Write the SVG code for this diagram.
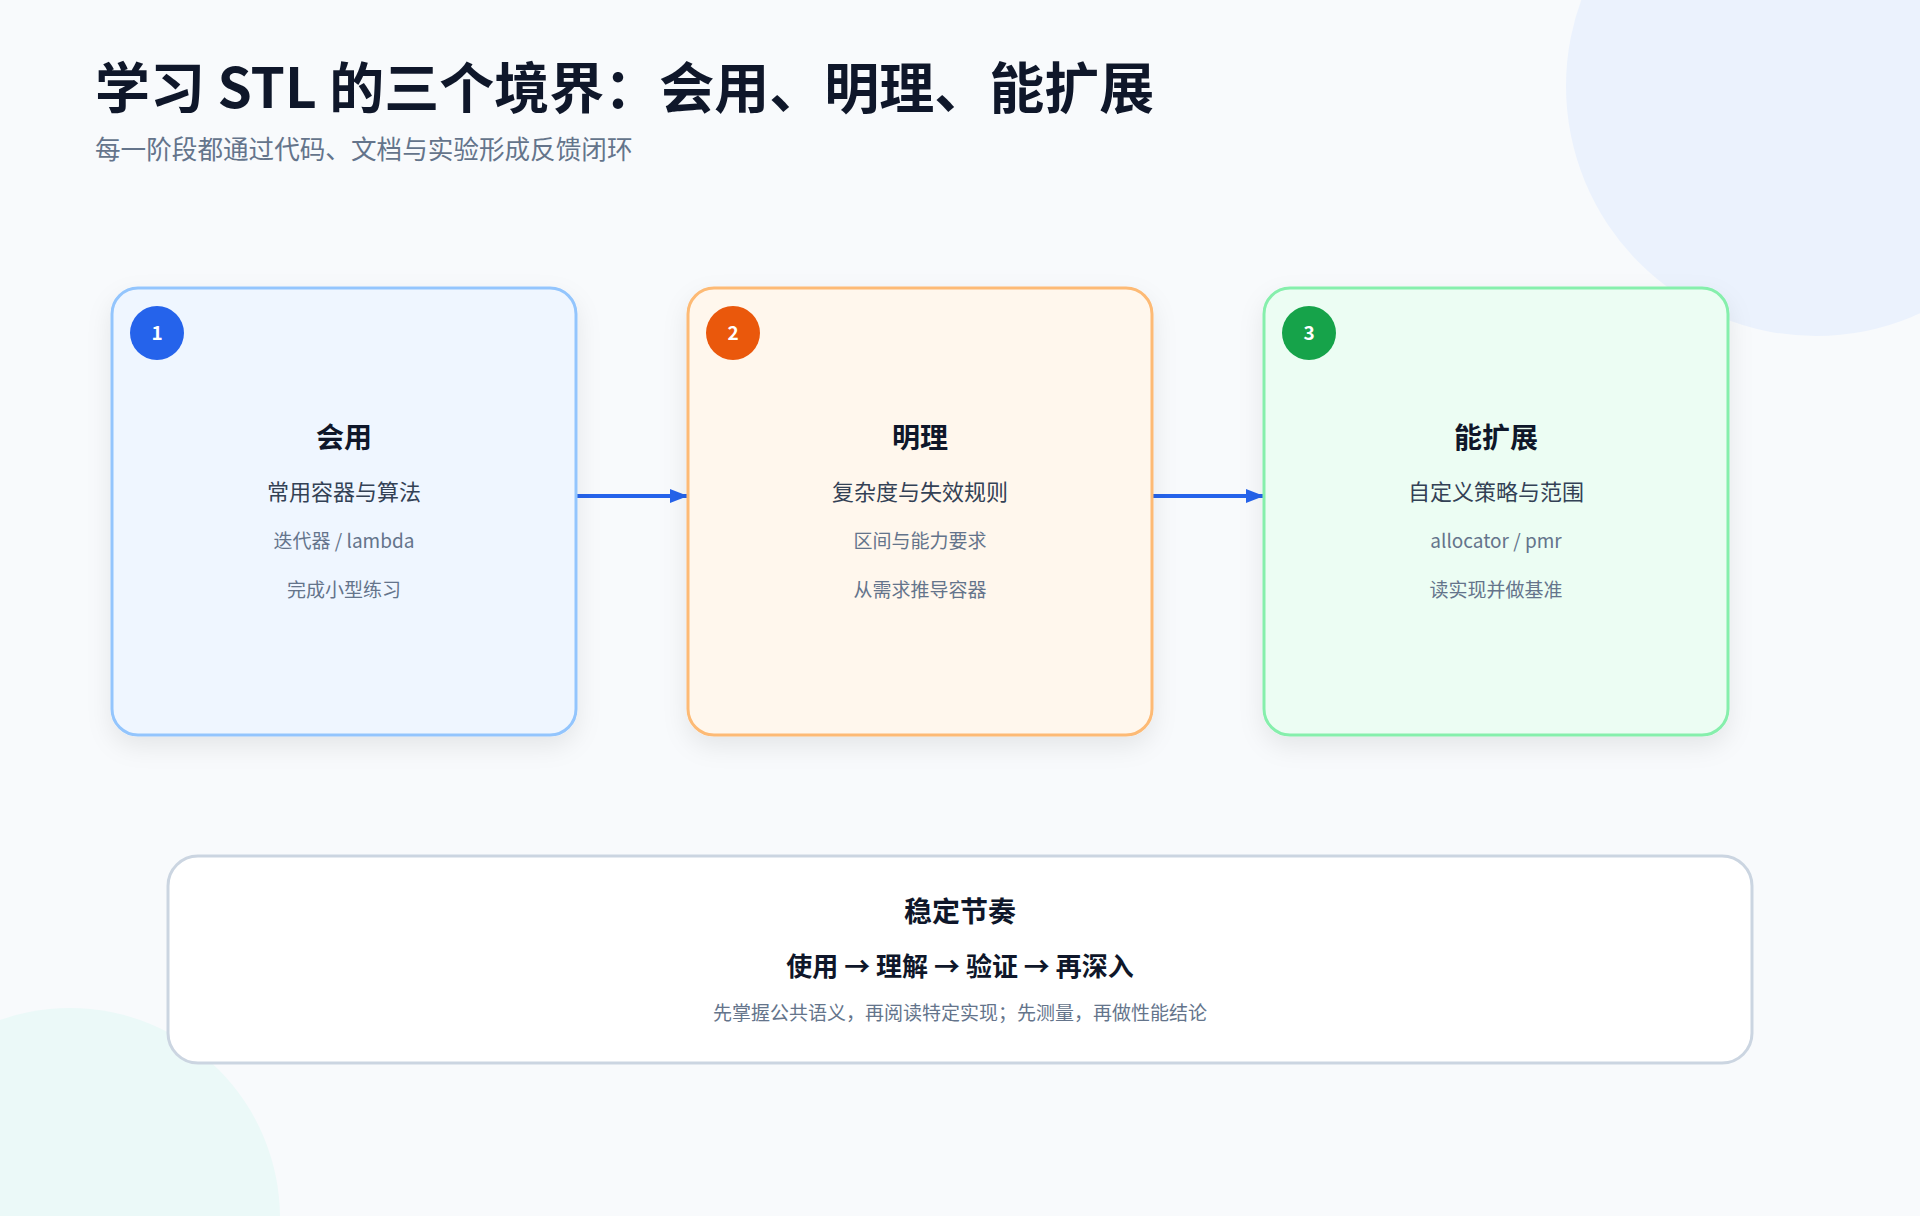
<svg xmlns="http://www.w3.org/2000/svg" width="1920" height="1216" viewBox="0 0 1920 1216">
  <defs>
    <style>
      text { font-family: "Noto Sans CJK SC", "Noto Sans", sans-serif; text-anchor: middle; }
      .h1 { font-size: 55px; font-weight: 700; fill: #0f172a; text-anchor: start; }
      .sub { font-size: 25.6px; fill: #64748b; text-anchor: start; }
      .ct { font-size: 28px; font-weight: 700; fill: #0f172a; }
      .cs { font-size: 22px; fill: #334155; }
      .cn { font-size: 19px; fill: #64748b; }
      .badge-t { font-size: 19px; font-weight: 700; fill: #ffffff; }
      .card { stroke-width: 3; filter: url(#shadow); }
      .conn { stroke: #2563eb; stroke-width: 4; fill: none; marker-end: url(#arrow); }
    </style>
    <filter id="shadow" x="-10%" y="-10%" width="120%" height="130%">
      <feDropShadow dx="0" dy="10" stdDeviation="12" flood-color="#0f172a" flood-opacity="0.08"/>
    </filter>
    <marker id="arrow" markerUnits="userSpaceOnUse" markerWidth="20" markerHeight="16" refX="18" refY="8" orient="auto">
      <path d="M0,1 L18,8 L0,15 Z" fill="#2563eb"/>
    </marker>
  </defs>

  <rect x="0" y="0" width="1920" height="1216" fill="#f8fafc"/>
  <circle cx="1816" cy="86" r="250" fill="#ebf2fd"/>
  <circle cx="70" cy="1218" r="210" fill="#ebf9f8"/>

  <g id="header">
    <text class="h1" x="95" y="108">学习 STL 的三个境界：会用、明理、能扩展</text>
    <text class="sub" x="95" y="159">每一阶段都通过代码、文档与实验形成反馈闭环</text>
  </g>

  <g id="connectors">
    <line class="conn" x1="577" y1="496" x2="688" y2="496"/>
    <line class="conn" x1="1153" y1="496" x2="1264" y2="496"/>
  </g>

  <g id="node-1">
    <rect class="card" x="112" y="288" width="464" height="447" rx="26" fill="#eff6ff" stroke="#93c5fd"/>
    <circle cx="157" cy="333" r="27" fill="#2563eb"/>
    <text class="badge-t" x="157" y="340">1</text>
    <text class="ct" x="344" y="448">会用</text>
    <text class="cs" x="344" y="500">常用容器与算法</text>
    <text class="cn" x="344" y="548">迭代器 / lambda</text>
    <text class="cn" x="344" y="597">完成小型练习</text>
  </g>

  <g id="node-2">
    <rect class="card" x="688" y="288" width="464" height="447" rx="26" fill="#fff7ed" stroke="#fdba74"/>
    <circle cx="733" cy="333" r="27" fill="#ea580c"/>
    <text class="badge-t" x="733" y="340">2</text>
    <text class="ct" x="920" y="448">明理</text>
    <text class="cs" x="920" y="500">复杂度与失效规则</text>
    <text class="cn" x="920" y="548">区间与能力要求</text>
    <text class="cn" x="920" y="597">从需求推导容器</text>
  </g>

  <g id="node-3">
    <rect class="card" x="1264" y="288" width="464" height="447" rx="26" fill="#ecfdf3" stroke="#86efac"/>
    <circle cx="1309" cy="333" r="27" fill="#16a34a"/>
    <text class="badge-t" x="1309" y="340">3</text>
    <text class="ct" x="1496" y="448">能扩展</text>
    <text class="cs" x="1496" y="500">自定义策略与范围</text>
    <text class="cn" x="1496" y="548">allocator / pmr</text>
    <text class="cn" x="1496" y="597">读实现并做基准</text>
  </g>

  <g id="rhythm">
    <rect x="168" y="856" width="1584" height="207" rx="30" fill="#ffffff" stroke="#cbd5e1" stroke-width="3"/>
    <text class="ct" x="960" y="922">稳定节奏</text>
    <text x="960" y="976" style="font-size:26px;font-weight:700;fill:#0f172a">使用 → 理解 → 验证 → 再深入</text>
    <text x="960" y="1020" style="font-size:19px;fill:#64748b">先掌握公共语义，再阅读特定实现；先测量，再做性能结论</text>
  </g>
</svg>
